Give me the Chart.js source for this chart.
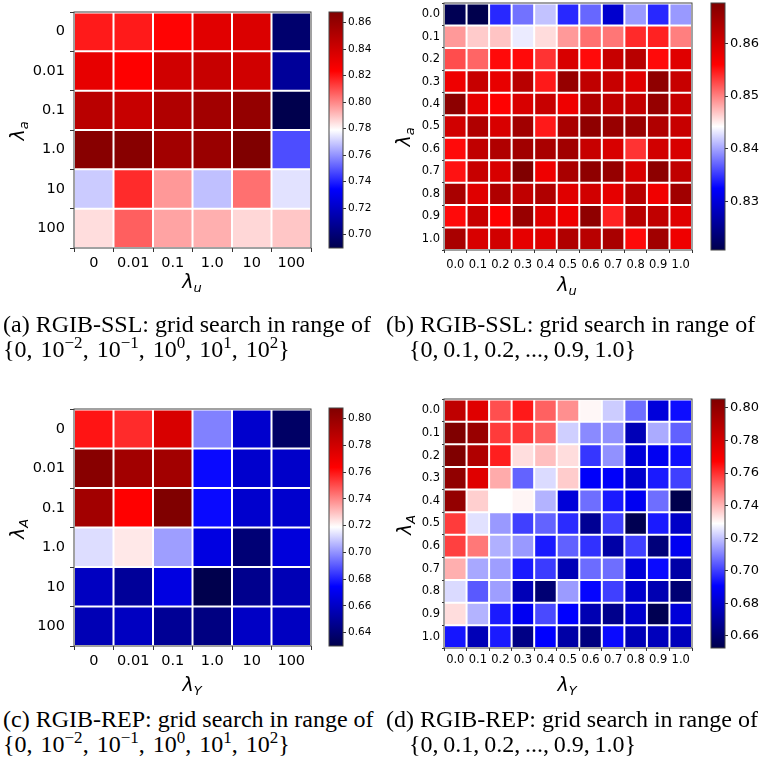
<!DOCTYPE html>
<html>
<head>
<meta charset="utf-8">
<script src="https://cdn.jsdelivr.net/npm/chart.js@4.4.0/dist/chart.umd.min.js"></script>
<style>
  body { margin: 0; background: #fff; width: 766px; height: 761px; position: relative; overflow: hidden; }
  canvas { position: absolute; }
  .ax { position: absolute; font-family: "DejaVu Sans"; font-style: italic; font-size: 19px; line-height: 22px; white-space: nowrap; color: #000; transform: translate(-50%, -50%); }
  .ax sub { font-size: 13px; line-height: 0; vertical-align: -4px; }
  .ax.rot { transform: translate(-50%, -50%) rotate(-90deg); }
  .cap { position: absolute; font-family: "Liberation Serif"; font-size: 24px; line-height: 24px; white-space: nowrap; color: #000; }
  .cap sup { font-size: 17px; line-height: 0; vertical-align: 9px; }
  .cap .sp { display: inline-block; width: 8px; }
</style>
</head>
<body>
<canvas id="hmA"></canvas>
<canvas id="cbA"></canvas>
<canvas id="hmB"></canvas>
<canvas id="cbB"></canvas>
<canvas id="hmC"></canvas>
<canvas id="cbC"></canvas>
<canvas id="hmD"></canvas>
<canvas id="cbD"></canvas>

<div class="ax rot" style="left:17px;top:131px">λ<sub>a</sub></div>
<div class="ax" style="left:192px;top:281px">λ<sub>u</sub></div>
<div class="ax rot" style="left:403px;top:137px">λ<sub>a</sub></div>
<div class="ax" style="left:567px;top:284px">λ<sub>u</sub></div>
<div class="ax rot" style="left:17px;top:529px">λ<sub>A</sub></div>
<div class="ax" style="left:192px;top:684px">λ<sub>Y</sub></div>
<div class="ax rot" style="left:404px;top:525px">λ<sub>A</sub></div>
<div class="ax" style="left:567px;top:684px">λ<sub>Y</sub></div>

<div class="cap" style="left:3px;top:312px">(a) RGIB-SSL: grid search in range of</div>
<div class="cap" style="left:3px;top:337px">{0,<span class="sp"></span>10<sup>−2</sup>,<span class="sp"></span>10<sup>−1</sup>,<span class="sp"></span>10<sup>0</sup>,<span class="sp"></span>10<sup>1</sup>,<span class="sp"></span>10<sup>2</sup>}</div>
<div class="cap" style="left:386px;top:312px">(b) RGIB-SSL: grid search in range of</div>
<div class="cap" style="left:409px;top:337px">{0,&thinsp;0.1,&thinsp;0.2,&thinsp;...,&thinsp;0.9,&thinsp;1.0}</div>
<div class="cap" style="left:3px;top:707px">(c) RGIB-REP: grid search in range of</div>
<div class="cap" style="left:3px;top:732px">{0,<span class="sp"></span>10<sup>−2</sup>,<span class="sp"></span>10<sup>−1</sup>,<span class="sp"></span>10<sup>0</sup>,<span class="sp"></span>10<sup>1</sup>,<span class="sp"></span>10<sup>2</sup>}</div>
<div class="cap" style="left:386px;top:707px">(d) RGIB-REP: grid search in range of</div>
<div class="cap" style="left:409px;top:732px">{0,&thinsp;0.1,&thinsp;0.2,&thinsp;...,&thinsp;0.9,&thinsp;1.0}</div>

<script>
// grid values
const coarseLabels = ['0', '0.01', '0.1', '1.0', '10', '100'];
const fineLabels = ['0.0', '0.1', '0.2', '0.3', '0.4', '0.5', '0.6', '0.7', '0.8', '0.9', '1.0'];

// (a) RGIB-SSL, rows = lambda_a, cols = lambda_u
const sslCoarse = [
    [0.819, 0.819, 0.823, 0.834, 0.836, 0.698],
    [0.832, 0.824, 0.840, 0.843, 0.840, 0.709],
    [0.848, 0.843, 0.851, 0.856, 0.861, 0.690],
    [0.865, 0.865, 0.856, 0.859, 0.868, 0.748],
    [0.770, 0.816, 0.797, 0.768, 0.804, 0.774],
    [0.785, 0.807, 0.795, 0.793, 0.786, 0.789]
];

// (b) RGIB-SSL fine grid
const sslFine = [
    [0.8212, 0.8207, 0.8343, 0.8377, 0.8414, 0.8343, 0.8372, 0.8292, 0.8395, 0.8343, 0.8395],
    [0.8489, 0.8466, 0.8469, 0.8433, 0.8458, 0.8489, 0.8508, 0.8505, 0.8540, 0.8544, 0.8501],
    [0.8524, 0.8513, 0.8555, 0.8555, 0.8536, 0.8595, 0.8555, 0.8611, 0.8625, 0.8555, 0.8588],
    [0.8574, 0.8611, 0.8581, 0.8625, 0.8548, 0.8656, 0.8618, 0.8611, 0.8588, 0.8663, 0.8611],
    [0.8665, 0.8583, 0.8559, 0.8595, 0.8611, 0.8574, 0.8632, 0.8618, 0.8615, 0.8656, 0.8611],
    [0.8602, 0.8632, 0.8595, 0.8646, 0.8548, 0.8639, 0.8663, 0.8654, 0.8653, 0.8632, 0.8611],
    [0.8555, 0.8618, 0.8632, 0.8646, 0.8639, 0.8646, 0.8611, 0.8595, 0.8536, 0.8602, 0.8595],
    [0.8551, 0.8611, 0.8595, 0.8677, 0.8574, 0.8639, 0.8663, 0.8656, 0.8595, 0.8665, 0.8618],
    [0.8639, 0.8588, 0.8632, 0.8618, 0.8632, 0.8588, 0.8602, 0.8583, 0.8625, 0.8572, 0.8646],
    [0.8555, 0.8611, 0.8559, 0.8654, 0.8588, 0.8574, 0.8663, 0.8544, 0.8625, 0.8618, 0.8588],
    [0.8639, 0.8595, 0.8602, 0.8583, 0.8588, 0.8632, 0.8625, 0.8639, 0.8555, 0.8646, 0.8574]
];

// (c) RGIB-REP, rows = lambda_A, cols = lambda_Y
const repCoarse = [
    [0.760, 0.756, 0.777, 0.697, 0.662, 0.636],
    [0.805, 0.796, 0.796, 0.676, 0.662, 0.661],
    [0.796, 0.7635, 0.808, 0.676, 0.662, 0.662],
    [0.713, 0.723, 0.702, 0.667, 0.640, 0.6655],
    [0.659, 0.649, 0.667, 0.630, 0.646, 0.656],
    [0.656, 0.659, 0.648, 0.643, 0.660, 0.659]
];

// (d) RGIB-REP fine grid
const repFine = [
    [0.7864, 0.7765, 0.7554, 0.7635, 0.7528, 0.7459, 0.7302, 0.7214, 0.7073, 0.6832, 0.6927],
    [0.8055, 0.7979, 0.7585, 0.7590, 0.7528, 0.7218, 0.7115, 0.7126, 0.6755, 0.7164, 0.7054],
    [0.8055, 0.7910, 0.7627, 0.7340, 0.7386, 0.7342, 0.6989, 0.7126, 0.6826, 0.6881, 0.6931],
    [0.8002, 0.7765, 0.7417, 0.7057, 0.7237, 0.7367, 0.6897, 0.6897, 0.6801, 0.6947, 0.7004],
    [0.7994, 0.7363, 0.7290, 0.7306, 0.7176, 0.6826, 0.7073, 0.6947, 0.6881, 0.7073, 0.6526],
    [0.7585, 0.7245, 0.7138, 0.7004, 0.7057, 0.6973, 0.6679, 0.7004, 0.6537, 0.6947, 0.6788],
    [0.7577, 0.7493, 0.7172, 0.7138, 0.6947, 0.7054, 0.6981, 0.6717, 0.7004, 0.6624, 0.6881],
    [0.7410, 0.7160, 0.7145, 0.6947, 0.6996, 0.6755, 0.7070, 0.7073, 0.6826, 0.6923, 0.6717],
    [0.7235, 0.7042, 0.7145, 0.6755, 0.6608, 0.7140, 0.6915, 0.7004, 0.6801, 0.6744, 0.6608],
    [0.7342, 0.7176, 0.6947, 0.6881, 0.7019, 0.6908, 0.6744, 0.6662, 0.6801, 0.6537, 0.6826],
    [0.6939, 0.6755, 0.6947, 0.6646, 0.6908, 0.6717, 0.6635, 0.6923, 0.6755, 0.6765, 0.6765]
];

// colorbar ticks
const cbTicksA = [0.70, 0.72, 0.74, 0.76, 0.78, 0.80, 0.82, 0.84, 0.86];
const cbTicksB = [0.83, 0.84, 0.85, 0.86];
const cbTicksC = [0.64, 0.66, 0.68, 0.70, 0.72, 0.74, 0.76, 0.78, 0.80];
const cbTicksD = [0.66, 0.68, 0.70, 0.72, 0.74, 0.76, 0.78, 0.80];

Chart.defaults.font.family = '"DejaVu Sans", sans-serif';
Chart.defaults.color = '#000';

// matplotlib 'seismic'
function seismic(t) {
    t = Math.min(1, Math.max(0, t));
    let r, g, b;
    if (t < 0.25) { r = 0; g = 0; b = 0.3 + 0.7 * t / 0.25; }
    else if (t < 0.5) { const s = (t - 0.25) / 0.25; r = s; g = s; b = 1; }
    else if (t < 0.75) { const s = (t - 0.5) / 0.25; r = 1; g = 1 - s; b = 1 - s; }
    else { const s = (t - 0.75) / 0.25; r = 1 - 0.5 * s; g = 0; b = 0; }
    return 'rgb(' + Math.round(r * 255) + ',' + Math.round(g * 255) + ',' + Math.round(b * 255) + ')';
}

const frame = {
    id: 'frame',
    afterDatasetsDraw(chart) {
        const { ctx, chartArea: a } = chart;
        ctx.save();
        ctx.strokeStyle = '#444';
        ctx.lineWidth = 1;
        ctx.strokeRect(a.left, a.top, a.right - a.left, a.bottom - a.top);
        ctx.restore();
    }
};

function place(canvas, left, top, w, h) {
    canvas.width = w;
    canvas.height = h;
    canvas.style.left = left + 'px';
    canvas.style.top = top + 'px';
    canvas.style.width = w + 'px';
    canvas.style.height = h + 'px';
}

const PAD = 14;

function heatmap(id, xLabels, yLabels, values, g) {
    const all = values.flat();
    const vmin = Math.min(...all), vmax = Math.max(...all);
    const canvas = document.getElementById(id);
    place(canvas, g.left - g.yW, g.top - PAD, g.yW + (g.right - g.left) + PAD, PAD + (g.bottom - g.top) + g.xH);

    new Chart(canvas, {
        type: 'bar',
        data: {
            labels: xLabels,
            datasets: yLabels.map((lab, r) => ({
                label: lab,
                data: xLabels.map(() => 1),
                backgroundColor: values[r].map(v => seismic((v - vmin) / (vmax - vmin))),
                borderColor: '#fff',
                borderWidth: 1,
                borderSkipped: false,
                barPercentage: 1,
                categoryPercentage: 1,
                inflateAmount: 0
            }))
        },
        options: {
            responsive: false,
            animation: false,
            events: [],
            layout: { padding: { left: 0, top: PAD, right: PAD, bottom: 0 } },
            plugins: { legend: { display: false }, tooltip: { enabled: false } },
            scales: {
                x: {
                    stacked: true,
                    offset: true,
                    grid: { offset: true, drawOnChartArea: false, tickLength: g.xTl, color: '#333' },
                    border: { display: false },
                    ticks: { autoSkip: false, maxRotation: 0, minRotation: 0, padding: g.xPad, font: { size: g.font } },
                    afterFit: s => { s.height = g.xH; }
                },
                y: {
                    stacked: true,
                    reverse: true,
                    min: 0,
                    max: yLabels.length,
                    grid: {
                        drawOnChartArea: false,
                        tickLength: g.yTl,
                        color: c => (c.tick && Number.isInteger(c.tick.value)) ? '#333' : 'rgba(0,0,0,0)'
                    },
                    border: { display: false },
                    afterBuildTicks: s => {
                        const t = [];
                        for (let k = 0; k <= yLabels.length * 2; k++) t.push({ value: k / 2 });
                        s.ticks = t;
                    },
                    ticks: {
                        autoSkip: false,
                        padding: g.yPad,
                        font: { size: g.font },
                        callback: v => Number.isInteger(v) ? '' : yLabels[Math.floor(v)]
                    },
                    afterFit: s => { s.width = g.yW; }
                }
            }
        },
        plugins: [frame]
    });
}

function colorbar(id, values, tickVals, g) {
    const all = values.flat();
    const vmin = Math.min(...all), vmax = Math.max(...all);
    const canvas = document.getElementById(id);
    const barW = 14, yW = 41;
    place(canvas, g.left - 5, g.top - PAD, 5 + barW + yW, PAD * 2 + (g.bottom - g.top));

    new Chart(canvas, {
        type: 'bar',
        data: {
            labels: [''],
            datasets: [{
                data: [[vmin, vmax]],
                backgroundColor: c => {
                    const a = c.chart.chartArea;
                    if (!a) return '#fff';
                    const grad = c.chart.ctx.createLinearGradient(0, a.bottom, 0, a.top);
                    grad.addColorStop(0, '#00004d');
                    grad.addColorStop(0.25, '#0000ff');
                    grad.addColorStop(0.5, '#ffffff');
                    grad.addColorStop(0.75, '#ff0000');
                    grad.addColorStop(1, '#800000');
                    return grad;
                },
                borderWidth: 0,
                barPercentage: 1,
                categoryPercentage: 1
            }]
        },
        options: {
            responsive: false,
            animation: false,
            events: [],
            layout: { padding: { left: 5, top: PAD, right: 0, bottom: PAD } },
            plugins: { legend: { display: false }, tooltip: { enabled: false } },
            scales: {
                x: { display: false },
                y: {
                    position: 'right',
                    min: vmin,
                    max: vmax,
                    grid: { drawOnChartArea: false, tickLength: g.tl, color: '#333' },
                    border: { display: false },
                    afterBuildTicks: s => { s.ticks = tickVals.map(v => ({ value: v })); },
                    ticks: { padding: g.pad, font: { size: g.font }, callback: v => v.toFixed(2) },
                    afterFit: s => { s.width = yW; }
                }
            }
        },
        plugins: [frame]
    });
}

heatmap('hmA', coarseLabels, coarseLabels, sslCoarse,
    { left: 74, right: 311, top: 12, bottom: 248, yW: 74, xH: 52, font: 14.5, xTl: 4, xPad: 3, yTl: 4, yPad: 5 });
colorbar('cbA', sslCoarse, cbTicksA, { left: 329, top: 12, bottom: 248, font: 10.5, tl: 3, pad: 2 });

heatmap('hmB', fineLabels, fineLabels, sslFine,
    { left: 444, right: 692, top: 3, bottom: 250, yW: 70, xH: 50, font: 11.5, xTl: 3, xPad: 5, yTl: 2, yPad: 2 });
colorbar('cbB', sslFine, cbTicksB, { left: 711, top: 3, bottom: 250, font: 13, tl: 3, pad: 2 });

heatmap('hmC', coarseLabels, coarseLabels, repCoarse,
    { left: 74, right: 311, top: 409, bottom: 646, yW: 74, xH: 44, font: 14.5, xTl: 4, xPad: 3, yTl: 4, yPad: 5 });
colorbar('cbC', repCoarse, cbTicksC, { left: 329, top: 408, bottom: 646, font: 10.5, tl: 3, pad: 2 });

heatmap('hmD', fineLabels, fineLabels, repFine,
    { left: 444, right: 692, top: 399, bottom: 648, yW: 70, xH: 42, font: 11.5, xTl: 3, xPad: 2, yTl: 2, yPad: 2 });
colorbar('cbD', repFine, cbTicksD, { left: 711, top: 399, bottom: 648, font: 13, tl: 3, pad: 2 });
</script>
</body>
</html>
